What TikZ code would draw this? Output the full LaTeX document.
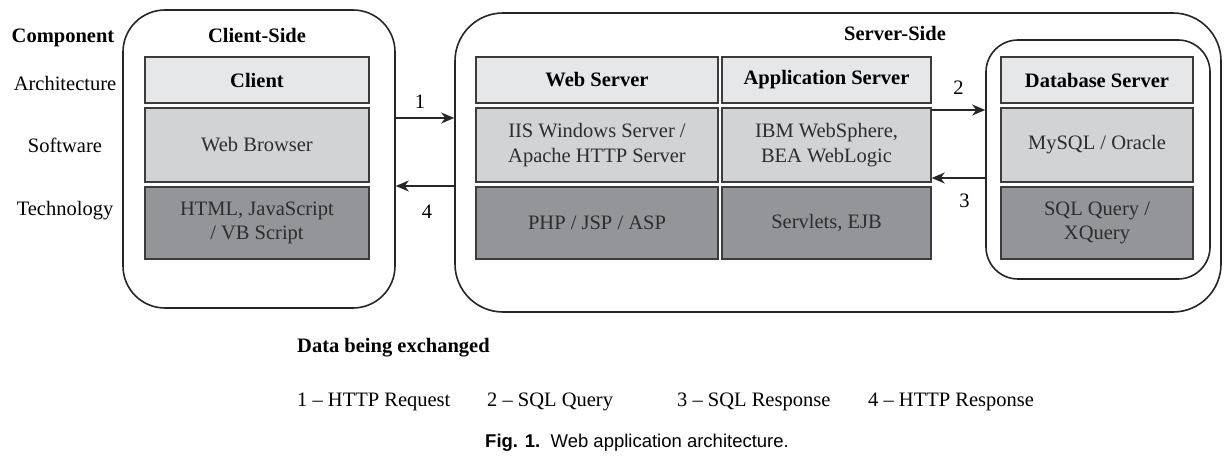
\documentclass[tikz,border=0pt]{standalone}
\usepackage{fontspec}
\setmainfont{Liberation Serif}
\newfontfamily\captionsans{Liberation Sans}
\usetikzlibrary{arrows.meta}

\definecolor{archgray}{RGB}{230,231,232}
\definecolor{softgray}{RGB}{209,211,212}
\definecolor{techgray}{RGB}{147,149,152}
\definecolor{edgegray}{RGB}{60,60,60}
\definecolor{inkgray}{RGB}{45,45,45}

\newcommand\bodysize{\fontsize{20.5}{24.5}\selectfont}

\tikzset{
  layer/.style={draw=edgegray, line width=1.4pt, align=center, inner sep=0pt,
    text=inkgray, font=\bodysize},
  archbox/.style={layer, fill=archgray, minimum height=46pt, text=black,
    font=\bodysize\bfseries},
  softbox/.style={layer, fill=softgray, minimum height=74pt},
  techbox/.style={layer, fill=techgray, minimum height=72pt},
  sidebox/.style={draw=black!85, line width=1.6pt, inner sep=0pt},
  heading/.style={font=\bodysize\bfseries, inner sep=0pt},
  rowname/.style={font=\bodysize, inner sep=0pt},
  flow/.style={-{Stealth[length=13pt,width=11pt,inset=4pt]}, line width=1.6pt,
    draw=black!85},
  flownum/.style={font=\bodysize, inner sep=0pt},
}

\begin{document}
\begin{tikzpicture}[x=1pt,y=-1pt]
  \useasboundingbox (0,0) rectangle (1224,457);

  % row names
  \node[heading] (component) at (63,38) {Component};
  \foreach \lbl/\yy in {Architecture/83,Software/145,Technology/211}
    \node[rowname] (row\yy) at (65,\yy) {\lbl};

  % client side
  \node[sidebox, rounded corners=42pt, minimum width=272pt, minimum height=298pt]
    (clientside) at (259,159) {};
  \node[heading] (clienttitle) at (257,35) {Client-Side};
  \node[archbox, minimum width=224pt] (client) at (257,80) {Client};
  \node[softbox, minimum width=224pt] (browser) at (257,145) {Web Browser};
  \node[techbox, minimum width=224pt] (clienttech) at (257,223)
    {HTML, JavaScript\\/ VB Script};

  % server side
  \node[sidebox, rounded corners=48pt, minimum width=766pt, minimum height=299pt]
    (serverside) at (838,162.5) {};
  \node[heading] (servertitle) at (895,33) {Server-Side};
  \node[archbox, minimum width=242pt] (websrv) at (597,80) {Web Server};
  \node[softbox, minimum width=242pt] (websoft) at (597,145)
    {IIS Windows Server /\\Apache HTTP Server};
  \node[techbox, minimum width=242pt] (webtech) at (597,223) {PHP / JSP / ASP};
  \node[archbox, minimum width=209pt] (appsrv) at (826.5,80) {Application Server};
  \node[softbox, minimum width=209pt] (appsoft) at (826.5,145)
    {IBM WebSphere,\\BEA WebLogic};
  \node[techbox, minimum width=209pt] (apptech) at (826.5,223) {Servlets, EJB};

  % database
  \node[sidebox, rounded corners=32pt, minimum width=224pt, minimum height=239pt]
    (dbside) at (1098,159.5) {};
  \node[archbox, minimum width=192pt] (dbsrv) at (1097,80) {Database Server};
  \node[softbox, minimum width=192pt] (dbsoft) at (1097,145) {MySQL / Oracle};
  \node[techbox, minimum width=192pt] (dbtech) at (1097,223) {SQL Query /\\XQuery};

  % exchanges
  \draw[flow] (clientside.east |- 0,118) -- node[flownum, above=9pt, xshift=-5pt] (n1) {1}
    (serverside.west |- 0,118);
  \draw[flow] (serverside.west |- 0,186) -- node[flownum, below=18pt, xshift=2pt] (n4) {4}
    (clientside.east |- 0,186);
  \draw[flow] (appsoft.east |- 0,110) -- node[flownum, above=15pt] (n2) {2}
    (dbside.west |- 0,110);
  \draw[flow] (dbside.west |- 0,178) -- node[flownum, below=15pt, xshift=6pt] (n3) {3}
    (appsoft.east |- 0,178);

  % legend
  \node[anchor=west, inner sep=0pt, font=\bodysize\bfseries] (exchanged) at (297,348)
    {Data being exchanged};
  \foreach \num/\txt/\xx in {1/HTTP Request/297,2/SQL Query/487,3/SQL Response/677,4/HTTP Response/868}
    \node[anchor=west, inner sep=0pt, font=\bodysize] (msg\num) at (\xx,402)
      {\num\ \textendash\ \txt};
  \node[anchor=west, inner sep=0pt, font=\captionsans\fontsize{18.5}{22}\selectfont] (caption)
    at (485,443) {\textbf{Fig. 1.}\ \ Web application architecture.};
\end{tikzpicture}
\end{document}
